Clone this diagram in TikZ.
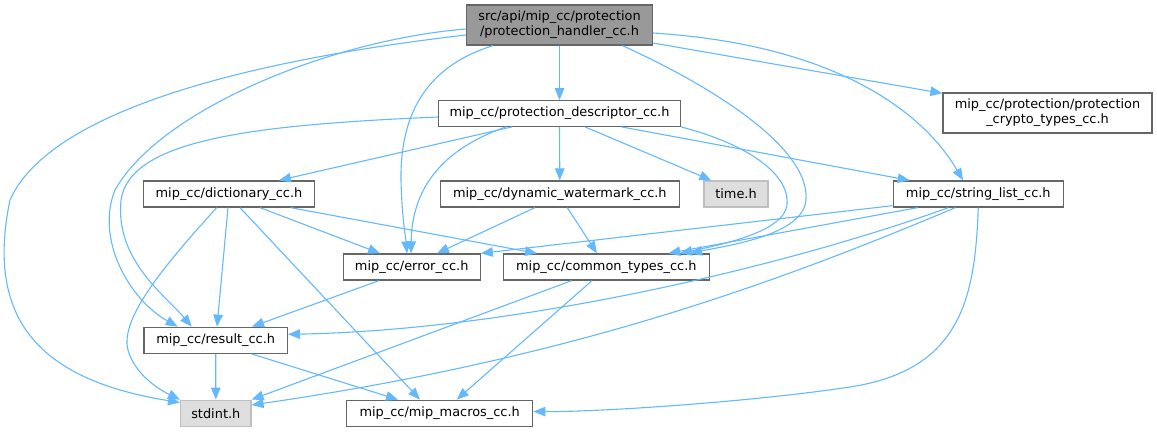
\documentclass[tikz,border=0pt]{standalone}
\usepackage{fontspec}
\setmainfont{DejaVu Sans}
\usetikzlibrary{arrows.meta,calc}
\definecolor{edgecol}{HTML}{63B8FF}
\definecolor{nodeborder}{HTML}{666666}
\definecolor{rootfill}{HTML}{999999}
\definecolor{sysfill}{HTML}{DEDEDE}
\definecolor{sysborder}{HTML}{BFBFBF}
\begin{document}
\begin{tikzpicture}[x=1pt,y=-1pt,
  box/.style={draw=nodeborder, fill=white, line width=1.3pt, inner sep=0pt,
    font=\fontsize{12.9}{15}\selectfont, align=center},
  rootbox/.style={box, fill=rootfill},
  sysbox/.style={box, draw=sysborder, fill=sysfill},
  dep/.style={draw=edgecol, line width=1.1pt, -{Triangle[length=12pt,width=9.5pt]}}
]
\useasboundingbox (0,0) rectangle (1157,432);

% nodes
\node[rootbox, minimum width=186pt, minimum height=40pt] (root) at (559.5,25) {src/api/mip\_cc/protection\\/protection\_handler\_cc.h};
\node[box, minimum width=242pt, minimum height=25.5pt] (pd) at (559.5,113.5) {mip\_cc/protection\_descriptor\_cc.h};
\node[box, minimum width=209pt, minimum height=40pt] (crypto) at (1047.5,113) {mip\_cc/protection/protection\\\_crypto\_types\_cc.h};
\node[box, minimum width=171pt, minimum height=26pt] (dict) at (229,194) {mip\_cc/dictionary\_cc.h};
\node[box, minimum width=239pt, minimum height=26pt] (dw) at (559.8,194) {mip\_cc/dynamic\_watermark\_cc.h};
\node[sysbox, minimum width=64pt, minimum height=26pt] (time) at (736,194) {time.h};
\node[box, minimum width=170pt, minimum height=26pt] (sl) at (978.3,194) {mip\_cc/string\_list\_cc.h};
\node[box, minimum width=137pt, minimum height=26pt] (error) at (411.7,267) {mip\_cc/error\_cc.h};
\node[box, minimum width=206pt, minimum height=26pt] (ct) at (606.3,267) {mip\_cc/common\_types\_cc.h};
\node[box, minimum width=143.3pt, minimum height=26pt] (result) at (215.7,340.3) {mip\_cc/result\_cc.h};
\node[sysbox, minimum width=70.3pt, minimum height=26.5pt] (stdint) at (215.8,413.5) {stdint.h};
\node[box, minimum width=186pt, minimum height=26.5pt] (mip) at (439.7,413.5) {mip\_cc/mip\_macros\_cc.h};

% root edges
\draw[dep] ($(root.west)+(0,10)$) .. controls (250,60) and (50,110) .. (10,200) .. controls (-15,320) and (40,380) .. ($(stdint.west)+(0,-11)$);
\draw[dep] ($(root.west)+(0,4)$) .. controls (330,40) and (160,110) .. (115,190) .. controls (95,240) and (130,300) .. ($(result.north)+(-38,0)$);
\draw[dep] ($(root.south)+(-66.5,0)$) .. controls (430,65) and (400,110) .. (401,180) .. controls (402,220) and (406,240) .. ($(error.north)+(-4.7,0)$);
\draw[dep] (root.south) -- (pd.north);
\draw[dep] ($(root.south)+(63,0)$) .. controls (720,90) and (810,150) .. (806,200) .. controls (803,235) and (730,245) .. ($(ct.north)+(83.7,0)$);
\draw[dep] ($(root.east)+(0,8)$) .. controls (840,45) and (925,115) .. ($(sl.north)+(-15.3,0)$);
\draw[dep] ($(root.east)+(0,18)$) -- ($(crypto.north west)+(0,1)$);

% protection_descriptor edges
\draw[dep] ($(pd.west)+(0,3.5)$) .. controls (250,125) and (130,140) .. (121,200) .. controls (115,260) and (165,295) .. ($(result.north)+(-24,0)$);
\draw[dep] ($(pd.south)+(-47.5,0)$) -- ($(dict.north)+(50,0)$);
\draw[dep] ($(pd.south)+(-53.5,0)$) .. controls (440,150) and (412,190) .. ($(error.north)+(-0.7,0)$);
\draw[dep] (pd.south) -- (dw.north);
\draw[dep] ($(pd.south)+(25.5,0)$) -- ($(time.north west)+(8,0)$);
\draw[dep] ($(pd.south)+(62,0)$) -- ($(sl.north west)+(17,0)$);
\draw[dep] (pd.south east) .. controls (750,145) and (790,175) .. (787,205) .. controls (784,232) and (720,245) .. ($(ct.north)+(73.7,0)$);

% dictionary edges
\draw[dep] ($(dict.south)+(-12.3,0)$) .. controls (160,270) and (120,320) .. (128,350) .. controls (135,375) and (160,390) .. (stdint.north west);
\draw[dep] ($(dict.south)+(-1,0)$) -- ($(result.north)+(1.3,0)$);
\draw[dep] ($(dict.south)+(11,0)$) -- ($(mip.north)+(-19.7,0)$);
\draw[dep] ($(dict.south)+(31,0)$) -- ($(error.north)+(-31.7,0)$);
\draw[dep] ($(dict.south east)+(-24.5,0)$) -- ($(ct.north)+(-69.3,0)$);

% dynamic_watermark edges
\draw[dep] ($(dw.south)+(-24.8,0)$) -- ($(error.north)+(25.3,0)$);
\draw[dep] ($(dw.south)+(7.5,0)$) -- ($(ct.north)+(-9.3,0)$);

% string_list edges
\draw[dep] ($(sl.south west)+(0,-2)$) -- (error.north east);
\draw[dep] ($(sl.south west)+(25,0)$) -- ($(ct.north)+(62,0)$);
\draw[dep] ($(sl.south)+(-30,0)$) .. controls (790,265) and (520,330) .. ($(result.east)+(0,-6)$);
\draw[dep] ($(sl.south)+(-23,0)$) .. controls (760,290) and (560,360) .. ($(stdint.east)+(0,-8.5)$);
\draw[dep] (sl.south) .. controls (975,300) and (960,370) .. (850,387) .. controls (750,402) and (600,412) .. ($(mip.east)+(0,-2)$);

% error edges
\draw[dep] ($(error.south)+(-32.7,0)$) -- ($(result.north)+(36.3,0)$);

% common_types edges
\draw[dep] ($(ct.south)+(-34.7,0)$) -- (stdint.north east);
\draw[dep] ($(ct.south)+(-14.3,0)$) -- ($(mip.north)+(17,0)$);

% result edges
\draw[dep] (result.south) -- (stdint.north);
\draw[dep] ($(result.south)+(36,0)$) -- ($(mip.north)+(-41.7,0)$);
\end{tikzpicture}
\end{document}
